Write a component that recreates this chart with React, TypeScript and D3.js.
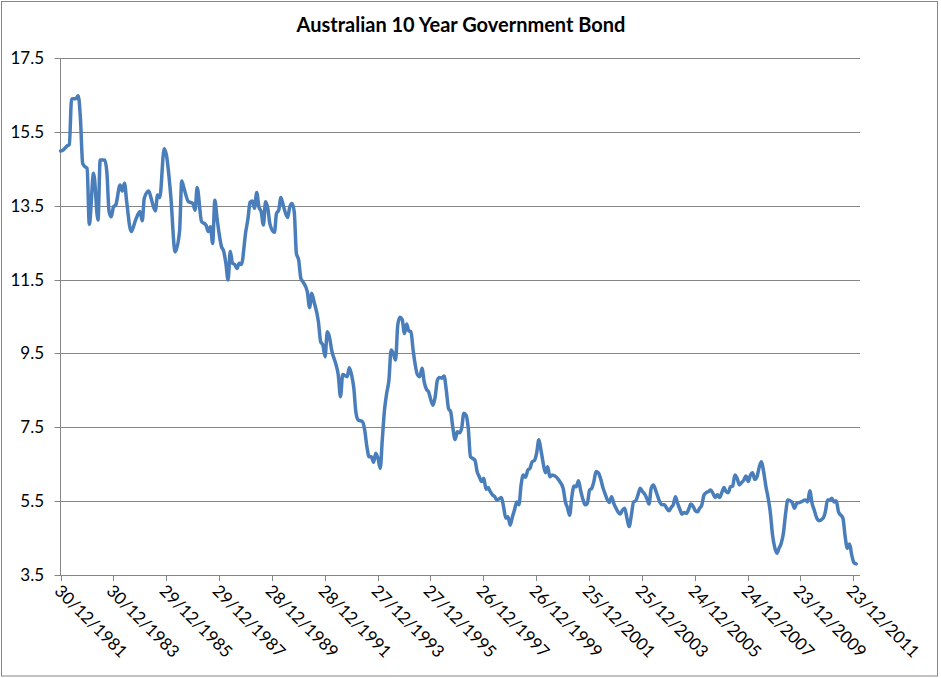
import React from "react";
import * as d3 from "d3";

const chartTitle = "Australian 10 Year Government Bond";

const dates: string[] = [
  "1982-01", "1982-02", "1982-04", "1982-05", "1982-06", "1982-08", "1982-09", "1982-10", "1982-11", "1982-12",
  "1983-01", "1983-02", "1983-04", "1983-06", "1983-07", "1983-09", "1983-10", "1983-11", "1983-12",
  "1984-01", "1984-02", "1984-04", "1984-05", "1984-06", "1984-07", "1984-09", "1984-11",
  "1985-01", "1985-02", "1985-03", "1985-05", "1985-06", "1985-08", "1985-09", "1985-10", "1985-12",
  "1986-01", "1986-03", "1986-05", "1986-07", "1986-08", "1986-09", "1986-11",
  "1987-01", "1987-02", "1987-03", "1987-05", "1987-07", "1987-08", "1987-09", "1987-10", "1987-11", "1987-12",
  "1988-02", "1988-03", "1988-04", "1988-05", "1988-06", "1988-07", "1988-08", "1988-09", "1988-10", "1988-11",
  "1989-01", "1989-02", "1989-03", "1989-04", "1989-05", "1989-06", "1989-07", "1989-08", "1989-09", "1989-10", "1989-11", "1989-12",
  "1990-02", "1990-03", "1990-04", "1990-05", "1990-06", "1990-08", "1990-09", "1990-10", "1990-11", "1990-12",
  "1991-01", "1991-02", "1991-03", "1991-05", "1991-06", "1991-07", "1991-08", "1991-10", "1991-11", "1991-12",
  "1992-01", "1992-02", "1992-03", "1992-04", "1992-06", "1992-07", "1992-08", "1992-09", "1992-11", "1992-12",
  "1993-01", "1993-02", "1993-03", "1993-04", "1993-06", "1993-07", "1993-08", "1993-09", "1993-10", "1993-11", "1993-12",
  "1994-01", "1994-02", "1994-03", "1994-04", "1994-05", "1994-06", "1994-07", "1994-08", "1994-09", "1994-10", "1994-11", "1994-12",
  "1995-01", "1995-02", "1995-03", "1995-04", "1995-05", "1995-07", "1995-08", "1995-09", "1995-10", "1995-11", "1995-12",
  "1996-01", "1996-02", "1996-03", "1996-04", "1996-05", "1996-06", "1996-07", "1996-08", "1996-09", "1996-10", "1996-11", "1996-12",
  "1997-01", "1997-02", "1997-03", "1997-04", "1997-05", "1997-06", "1997-07", "1997-09", "1997-10", "1997-11", "1997-12",
  "1998-01", "1998-02", "1998-03", "1998-04", "1998-05", "1998-06", "1998-07", "1998-09", "1998-10", "1998-11", "1998-12",
  "1999-01", "1999-02", "1999-03", "1999-04", "1999-05", "1999-06", "1999-07", "1999-08", "1999-09", "1999-10", "1999-11", "1999-12",
  "2000-01", "2000-02", "2000-03", "2000-04", "2000-05", "2000-06", "2000-07", "2000-08", "2000-10", "2000-11",
  "2001-01", "2001-02", "2001-03", "2001-04", "2001-05", "2001-06", "2001-07", "2001-08", "2001-09", "2001-10", "2001-11", "2001-12",
  "2002-01", "2002-02", "2002-03", "2002-04", "2002-05", "2002-06", "2002-07", "2002-08", "2002-10", "2002-11", "2002-12",
  "2003-01", "2003-03", "2003-04", "2003-05", "2003-06", "2003-07", "2003-08", "2003-09", "2003-10", "2003-11", "2003-12",
  "2004-01", "2004-02", "2004-03", "2004-04", "2004-05", "2004-06", "2004-07", "2004-08", "2004-09", "2004-10", "2004-11", "2004-12",
  "2005-01", "2005-02", "2005-03", "2005-04", "2005-05", "2005-06", "2005-07", "2005-08", "2005-09", "2005-10", "2005-11", "2005-12",
  "2006-01", "2006-02", "2006-03", "2006-04", "2006-05", "2006-06", "2006-07", "2006-08", "2006-09", "2006-10", "2006-11", "2006-12",
  "2007-01", "2007-02", "2007-03", "2007-04", "2007-05", "2007-06", "2007-07", "2007-08", "2007-09", "2007-10", "2007-11", "2007-12",
  "2008-01", "2008-02", "2008-03", "2008-04", "2008-05", "2008-06", "2008-07", "2008-08", "2008-09", "2008-10", "2008-11", "2008-12",
  "2009-01", "2009-02", "2009-03", "2009-04", "2009-05", "2009-06", "2009-07", "2009-08", "2009-09", "2009-10", "2009-11", "2009-12",
  "2010-01", "2010-03", "2010-04", "2010-05", "2010-06", "2010-07", "2010-08", "2010-09", "2010-11", "2010-12",
  "2011-01", "2011-02", "2011-03", "2011-04", "2011-05", "2011-06", "2011-08", "2011-09", "2011-10", "2011-11", "2011-12",
  "2012-01", "2012-02",
];

const yields: number[] = [
  14.98, 15.0, 15.12, 15.16, 16.39, 16.4, 16.48, 15.87, 14.65, 14.56,
  14.51, 13.0, 14.38, 13.11, 14.74, 14.74, 14.42, 13.34, 13.2,
  13.47, 13.52, 14.06, 13.9, 14.11, 13.61, 12.8, 13.11,
  13.34, 13.09, 13.7, 13.9, 13.72, 13.36, 13.79, 13.72, 15.04,
  14.87, 13.79, 12.25, 12.8, 14.17, 13.97, 13.61,
  13.56, 13.38, 13.99, 13.07, 12.98, 12.8, 12.93, 12.48, 13.65, 13.16,
  12.39, 12.27, 11.94, 11.49, 12.27, 11.94, 11.91, 11.8, 11.94, 11.91,
  12.8, 13.16, 13.59, 13.63, 13.43, 13.86, 13.47, 13.34, 12.98, 13.61, 13.43, 13.0,
  12.78, 13.29, 13.38, 13.72, 13.52, 13.18, 13.47, 13.56, 13.34, 12.21,
  12.03, 11.53, 11.44, 11.17, 10.74, 11.13, 10.9, 10.36, 9.82, 9.73,
  9.41, 10.09, 9.95, 9.59, 9.19, 8.92, 8.33, 8.93, 8.87, 9.11,
  8.92, 8.56, 7.92, 7.7, 7.65, 7.43, 6.97, 6.7, 6.7, 6.55, 6.8,
  6.66, 6.39, 7.16, 7.97, 8.42, 8.78, 9.59, 9.5, 9.32, 10.27, 10.48, 10.42,
  10.04, 10.3, 10.11, 10.09, 9.59, 8.92, 8.87, 9.1, 8.73, 8.53, 8.46,
  8.24, 8.1, 8.33, 8.78, 8.85, 8.83, 8.89, 8.51, 8.01, 7.92, 7.47, 7.17,
  7.38, 7.35, 7.47, 7.88, 7.83, 7.47, 6.7, 6.61, 6.3, 6.16, 6.03,
  6.12, 5.82, 5.87, 5.76, 5.67, 5.62, 5.53, 5.6, 5.35, 5.04, 5.08,
  4.85, 5.08, 5.26, 5.48, 5.4, 5.95, 6.21, 6.15, 6.34, 6.39, 6.57, 6.6,
  6.8, 7.16, 6.88, 6.52, 6.27, 6.43, 6.16, 6.21, 6.15, 6.07,
  5.85, 5.48, 5.33, 5.12, 5.62, 5.91, 5.89, 6.05, 5.78, 5.55, 5.4, 5.44,
  5.8, 5.85, 6.03, 6.3, 6.27, 6.12, 5.89, 5.71, 5.46, 5.62, 5.44,
  5.31, 5.15, 5.26, 5.31, 5.04, 4.81, 5.12, 5.48, 5.51, 5.67, 5.85,
  5.76, 5.69, 5.58, 5.42, 5.85, 5.94, 5.8, 5.62, 5.46, 5.4, 5.4, 5.31,
  5.24, 5.33, 5.4, 5.62, 5.44, 5.28, 5.15, 5.19, 5.17, 5.28, 5.42, 5.36,
  5.24, 5.21, 5.31, 5.4, 5.67, 5.73, 5.76, 5.8, 5.71, 5.6, 5.67, 5.6,
  5.73, 5.87, 5.76, 5.73, 5.89, 5.91, 6.21, 6.12, 5.94, 6.0, 6.07, 6.18,
  6.03, 6.21, 6.27, 6.09, 6.16, 6.42, 6.57, 6.3, 5.9, 5.6, 5.2, 4.6,
  4.25, 4.09, 4.22, 4.36, 4.63, 5.17, 5.53, 5.51, 5.46, 5.31, 5.44, 5.46,
  5.48, 5.53, 5.48, 5.78, 5.44, 5.26, 5.06, 4.97, 5.04, 5.21,
  5.53, 5.53, 5.58, 5.48, 5.51, 5.21, 5.04, 4.54, 4.22, 4.34, 4.04,
  3.83, 3.8,
];

const yTickValues: number[] = [3.5, 5.5, 7.5, 9.5, 11.5, 13.5, 15.5, 17.5];

const xTickLabels: string[] = [
  "30/12/1981", "30/12/1983", "29/12/1985", "29/12/1987", "28/12/1989", "28/12/1991",
  "27/12/1993", "27/12/1995", "26/12/1997", "26/12/1999", "25/12/2001", "25/12/2003",
  "24/12/2005", "24/12/2007", "23/12/2009", "23/12/2011",
];

const FONT = "Lato, 'Open Sans', sans-serif";
const GRID = "#868686";
const LINE = "#4A7EBB";

export default function App() {
  const W = 941;
  const H = 678;
  const plot = { left: 60.5, right: 860, top: 58, bottom: 575 };

  const parseMonth = d3.timeParse("%Y-%m");
  const parseLabel = d3.timeParse("%d/%m/%Y");
  const tickDates = xTickLabels.map((s) => parseLabel(s) as Date);

  const x = d3
    .scaleTime()
    .domain([tickDates[0], d3.timeDay.offset(tickDates[tickDates.length - 1], 92)])
    .range([plot.left, plot.right]);
  const y = d3.scaleLinear().domain([3.5, 17.5]).range([plot.bottom, plot.top]);

  const series: [Date, number][] = dates.map((d, i) => [parseMonth(d) as Date, yields[i]]);
  const linePath = d3
    .line<[Date, number]>()
    .x((d) => x(d[0]))
    .y((d) => y(d[1]))
    .curve(d3.curveMonotoneX)(series);

  return (
    <svg
      width={W}
      height={H}
      style={{ position: "absolute", left: 0, top: 0, background: "#fff" }}
      fontFamily={FONT}
    >
      <rect x={0} y={0} width={W} height={H} fill="#fff" />
      <rect x={1.5} y={1.5} width={936} height={674.5} fill="#fff" stroke={GRID} strokeWidth={1} />

      <text x={461} y={32} textAnchor="middle" fontSize={20} fontWeight="bold" fill="#000">
        {chartTitle}
      </text>

      {yTickValues.map((v) => (
        <g key={v}>
          <line
            x1={plot.left - 6}
            x2={plot.right}
            y1={Math.round(y(v)) + 0.5}
            y2={Math.round(y(v)) + 0.5}
            stroke={GRID}
            strokeWidth={1}
          />
          <text x={44} y={y(v) + 6} textAnchor="end" fontSize={17} fill="#000">
            {v.toFixed(1)}
          </text>
        </g>
      ))}

      <line x1={plot.left} x2={plot.left} y1={plot.top} y2={plot.bottom} stroke={GRID} strokeWidth={1} />

      {tickDates.map((d, i) => {
        const tx = Math.round(x(d)) + 0.5;
        return (
          <g key={xTickLabels[i]}>
            <line x1={tx} x2={tx} y1={plot.bottom} y2={plot.bottom + 6} stroke={GRID} strokeWidth={1} />
            <text
              transform={`translate(${tx - 8},${plot.bottom + 17}) rotate(45)`}
              fontSize={17}
              fill="#000"
            >
              {xTickLabels[i]}
            </text>
          </g>
        );
      })}

      <path
        d={linePath ?? ""}
        fill="none"
        stroke={LINE}
        strokeWidth={3.5}
        strokeLinejoin="round"
        strokeLinecap="round"
      />
    </svg>
  );
}
